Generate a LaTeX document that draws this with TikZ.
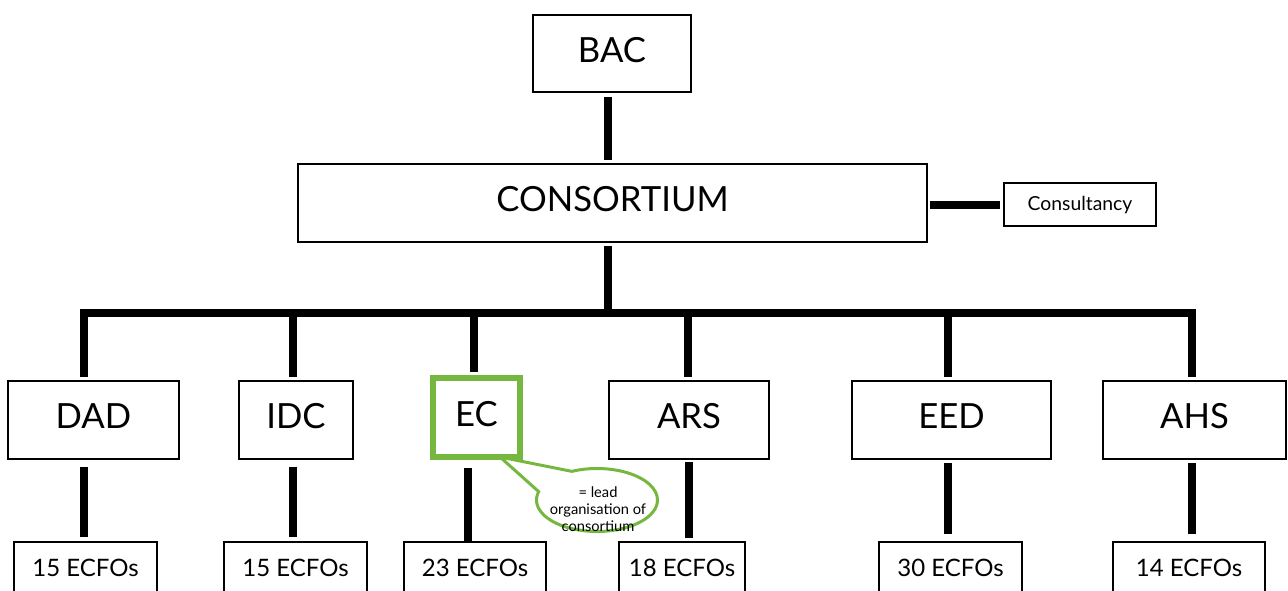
\documentclass[tikz,border=0pt]{standalone}
\usepackage{fontspec}
\setmainfont{Lato}
\usetikzlibrary{shapes.callouts}
\definecolor{leadgreen}{RGB}{118,183,64}
\begin{document}
\begin{tikzpicture}[x=0.75pt,y=-0.75pt,
  box/.style={draw=black, line width=1.5pt, fill=white, inner sep=0pt, align=center},
  wh/.style 2 args={minimum width=#1*0.75pt, minimum height=#2*0.75pt},
  big/.style={font=\fontsize{26}{30}\selectfont, text depth=6pt},
  mid/.style={font=\fontsize{18}{22}\selectfont},
  small/.style={font=\fontsize{14.5}{17}\selectfont},
  conn/.style={line width=6pt},
  leadbox/.style={box, draw=leadgreen, line width=4.5pt},
  note/.style={ellipse callout, draw=leadgreen, line width=2.25pt, fill=white,
    inner sep=0pt, callout pointer arc=50}]
\useasboundingbox (0,0) rectangle (1288,591);
\clip (0,0) rectangle (1288,591);

% top of the hierarchy
\node[box, big, wh={158}{77}] (bac) at (612,53.5) {BAC};
\node[box, big, wh={629}{78}] (cons) at (612.5,203) {CONSORTIUM};
\node[box, small, wh={152}{43}] (consult) at (1080,205) {Consultancy};

% remark attached to the lead organisation
\node[note, wh={121}{63}, callout absolute pointer={(500,457)}] (note) at (597,500) {};
\node[align=center, inner sep=0pt, font=\fontsize{11}{13}\selectfont] (notetext) at (598,509)
  {= lead\\organisation of\\consortium};

% member organisations
\node[box, big, wh={171}{78}] (dad) at (93.5,420) {DAD};
\node[box, big, wh={114}{78}] (idc) at (296,420) {IDC};
\node[leadbox, big, wh={87}{79}] (ec) at (476.5,417.5) {EC};
\node[box, big, wh={160}{78}] (ars) at (689,420) {ARS};
\node[box, big, wh={199}{78}] (eed) at (951.5,420) {EED};
\node[box, big, wh={183}{78}] (ahs) at (1194.5,420) {AHS};

% staff counts
\node[box, mid, wh={143}{52}] (fdad) at (85.5,568) {15 ECFOs};
\node[box, mid, wh={143}{52}] (fidc) at (295.5,568) {15 ECFOs};
\node[box, mid, wh={142}{52}] (fec) at (475,568) {23 ECFOs};
\node[box, mid, wh={126}{52}] (fars) at (682,568) {18 ECFOs};
\node[box, mid, wh={143}{52}] (feed) at (950.5,568) {30 ECFOs};
\node[box, mid, wh={152}{52}] (fahs) at (1189,568) {14 ECFOs};

% branch points on the distribution bar
\coordinate (trunk) at (608,313);
\coordinate (cdad) at (84,313);
\coordinate (cidc) at (293,313);
\coordinate (cec) at (474,313);
\coordinate (cars) at (688,313);
\coordinate (ceed) at (948,313);
\coordinate (cahs) at (1192,313);

% connectors
\draw[conn, shorten <=3pt, shorten >=2.2pt] (bac.south -| trunk) -- (cons.north -| trunk);
\draw[conn, shorten <=2.2pt] (cons.south -| trunk) -- (trunk);
\draw[conn, shorten <=1.5pt, shorten >=2.2pt] (cons.east |- consult) -- (consult.west);
\draw[conn, line cap=rect] (cdad) -- (cahs);
\foreach \c/\n in {cdad/dad, cidc/idc, cec/ec, cars/ars, ceed/eed, cahs/ahs}
  \draw[conn, shorten >=2.5pt] (\c) -- (\c |- \n.north);

% lower verticals to the staff counts
\coordinate (ldad) at (84,0);
\coordinate (lidc) at (293,0);
\coordinate (lec) at (468,0);
\coordinate (lars) at (689,0);
\coordinate (leed) at (948,0);
\coordinate (lahs) at (1192,0);
\draw[conn, shorten <=5pt, shorten >=3pt] (dad.south -| ldad) -- (fdad.north -| ldad);
\draw[conn, shorten <=5pt, shorten >=3pt] (idc.south -| lidc) -- (fidc.north -| lidc);
\draw[conn, shorten <=6pt] (ec.south -| lec) -- (fec.north -| lec);
\draw[conn, shorten <=1.5pt, shorten >=2pt] (ars.south -| lars) -- (fars.north -| lars);
\draw[conn, shorten <=2.5pt, shorten >=5pt] (eed.south -| leed) -- (feed.north -| leed);
\draw[conn, shorten <=2.5pt, shorten >=5pt] (ahs.south -| lahs) -- (fahs.north -| lahs);
\end{tikzpicture}
\end{document}
